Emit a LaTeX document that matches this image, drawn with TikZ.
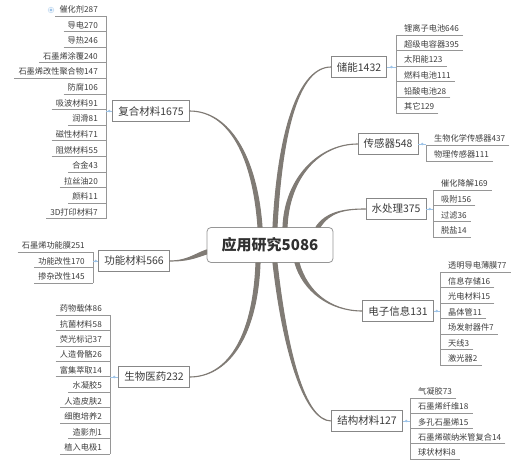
\documentclass[tikz,border=0pt]{standalone}
\usepackage{fontspec}
\setmainfont{Noto Sans CJK SC}
\usetikzlibrary{calc}
\definecolor{twigc}{RGB}{128,123,117}
\definecolor{stemc}{RGB}{150,150,150}
\definecolor{inkc}{RGB}{60,60,60}
\definecolor{knobc}{RGB}{158,196,232}
\tikzset{
  hubbox/.style={draw=stemc, line width=0.8pt, fill=white, rounded corners=4pt,
    minimum width=126pt, minimum height=35pt, inner xsep=12pt,
    font=\fontsize{15}{18}\selectfont\bfseries, text=inkc!80!black},
  twigbox/.style={draw=stemc!90!black, line width=0.7pt, fill=white, minimum height=21pt,
    inner xsep=5.5pt, font=\fontsize{10.5}{12}\selectfont, text=inkc},
  leaf/.style={inner xsep=4pt, inner ysep=2.5pt, font=\fontsize{8.2}{10}\selectfont, text=inkc},
  stem/.style={draw=stemc, line width=0.7pt},
  twig/.style={fill=twigc, draw=twigc, line width=1.1pt, line join=round},
  knob/.style={draw=knobc, line width=0.8pt},
}
\begin{document}
\begin{tikzpicture}[x=1pt,y=-1pt]
  \useasboundingbox (0,0) rectangle (516,465);

  % tapered branch: start, half width, start control, end control, end
  \def\twig#1#2#3#4#5{\filldraw[twig] ($(#1)-(#2)$) .. controls +(#3) and +(#4) .. (#5)
    .. controls +(#4) and +(#3) .. ($(#1)+(#2)$) -- cycle;}
  % little blue joint between a branch and its bracket
  \def\knob#1#2{\draw[knob] (#1) -- (#1 -| #2);
    \fill[knobc] ($(#1)!.5!(#1 -| #2)$) circle (1.4pt);}

  % centre and branches
  \node[hubbox] (hub) at (270,245) {应用研究5086};
  \node[twigbox] (fh) at (151,111) {复合材料1675};
  \node[twigbox] (gn) at (134,261) {功能材料566};
  \node[twigbox] (sw) at (154,377) {生物医药232};
  \node[twigbox] (cn) at (359,67) {储能1432};
  \node[twigbox] (cg) at (388,144) {传感器548};
  \node[twigbox] (sc) at (396,209) {水处理375};
  \node[twigbox] (dz) at (398,311) {电子信息131};
  \node[twigbox] (jg) at (367,421) {结构材料127};

  \coordinate (t1) at ([xshift=-10pt]hub.north);
  \coordinate (t2) at ([xshift=5pt]hub.north);
  \coordinate (t3) at ([xshift=15pt]hub.north);
  \coordinate (t4) at ([xshift=48pt]hub.north);
  \coordinate (t5) at ([yshift=-7pt]hub.west);
  \coordinate (t6) at ([xshift=-12pt]hub.south);
  \coordinate (t7) at ([xshift=27pt]hub.south);
  \coordinate (t8) at ([xshift=5pt]hub.south);

  \twig{t1}{2,0}{-5,-70}{40,0}{fh.east}
  \twig{t2}{2,0}{5,-97}{-32,0}{cn.west}
  \twig{t3}{2,0}{2,-50}{-38,0}{cg.west}
  \twig{t4}{2,0}{10,-15}{-22,0}{sc.west}
  \twig{t5}{0,2}{-12,4}{18,0}{gn.east}
  \twig{t6}{2,0}{-3,78}{36,0}{sw.east}
  \twig{t7}{2,0}{8,28}{-33,0}{dz.west}
  \twig{t8}{2,0}{10,88}{-27,0}{jg.west}

  % left: composites
  \coordinate (fbar) at (106,0);
  \foreach \t [count=\i] in {催化剂287,导电270,导热246,石墨烯涂覆240,石墨烯改性聚合物147,
      防腐106,吸波材料91,润滑81,磁性材料71,阻燃材料55,合金43,拉丝油20,颜料11,3D打印材料7}{
    \node[leaf, anchor=south east] (f\i) at (102,{16+15.6*(\i-1)}) {\t};
    \draw[stem] (f\i.south west) -- (f\i.south west -| fbar);
  }
  \draw[stem] (f1.south west -| fbar) -- (f14.south west -| fbar);
  \knob{fh.west}{fbar}
  \fill[knobc] (51,10) circle (1.6pt);
  \draw[knobc!60, line width=0.6pt] (51,10) circle (2.8pt);

  % left: functional materials
  \coordinate (gbar) at (93,0);
  \foreach \t [count=\i] in {石墨烯功能膜251,功能改性170,掺杂改性145}{
    \node[leaf, anchor=south east] (g\i) at (89,{252+15.5*(\i-1)}) {\t};
    \draw[stem] (g\i.south west) -- (g\i.south west -| gbar);
  }
  \draw[stem] (g1.south west -| gbar) -- (g3.south west -| gbar);
  \knob{gn.west}{gbar}

  % left: biomedicine
  \coordinate (sbar) at (110,0);
  \foreach \t [count=\i] in {药物载体86,抗菌材料58,荧光标记37,人造骨骼26,富集萃取14,
      水凝胶5,人造皮肤2,细胞培养2,造影剂1,植入电极1}{
    \node[leaf, anchor=south east] (s\i) at (106,{315+15.45*(\i-1)}) {\t};
    \draw[stem] (s\i.south west) -- (s\i.south west -| sbar);
  }
  \draw[stem] (s1.south west -| sbar) -- (s10.south west -| sbar);
  \knob{sw.west}{sbar}

  % right: energy storage
  \coordinate (cbar) at (396,0);
  \foreach \t [count=\i] in {锂离子电池646,超级电容器395,太阳能123,燃料电池111,铅酸电池28,其它129}{
    \node[leaf, anchor=south west] (c\i) at (400,{35+15.6*(\i-1)}) {\t};
    \draw[stem] (c\i.south east) -- (c\i.south east -| cbar);
  }
  \draw[stem] (c1.south east -| cbar) -- (c6.south east -| cbar);
  \knob{cn.east}{cbar}

  % right: sensors
  \coordinate (ebar) at (426,0);
  \foreach \t [count=\i] in {生物化学传感器437,物理传感器111}{
    \node[leaf, anchor=south west] (e\i) at (430,{145+16*(\i-1)}) {\t};
    \draw[stem] (e\i.south east) -- (e\i.south east -| ebar);
  }
  \draw[stem] (e1.south east -| ebar) -- (e2.south east -| ebar);
  \knob{cg.east}{ebar}

  % right: water treatment
  \coordinate (wbar) at (433,0);
  \foreach \t [count=\i] in {催化降解169,吸附156,过滤36,脱盐14}{
    \node[leaf, anchor=south west] (w\i) at (437,{190+15.7*(\i-1)}) {\t};
    \draw[stem] (w\i.south east) -- (w\i.south east -| wbar);
  }
  \draw[stem] (w1.south east -| wbar) -- (w4.south east -| wbar);
  \knob{sc.east}{wbar}

  % right: electronics
  \coordinate (dbar) at (440,0);
  \foreach \t [count=\i] in {透明导电薄膜77,信息存储16,光电材料15,晶体管11,场发射器件7,天线3,激光器2}{
    \node[leaf, anchor=south west] (d\i) at (444,{272+15.5*(\i-1)}) {\t};
    \draw[stem] (d\i.south east) -- (d\i.south east -| dbar);
  }
  \draw[stem] (d1.south east -| dbar) -- (d7.south east -| dbar);
  \knob{dz.east}{dbar}

  % right: structural materials
  \coordinate (jbar) at (410,0);
  \foreach \t [count=\i] in {气凝胶73,石墨烯纤维18,多孔石墨烯15,石墨烯碳纳米管复合14,球状材料8}{
    \node[leaf, anchor=south west] (j\i) at (414,{398+15.25*(\i-1)}) {\t};
    \draw[stem] (j\i.south east) -- (j\i.south east -| jbar);
  }
  \draw[stem] (j1.south east -| jbar) -- (j5.south east -| jbar);
  \knob{jg.east}{jbar}

\end{tikzpicture}
\end{document}
